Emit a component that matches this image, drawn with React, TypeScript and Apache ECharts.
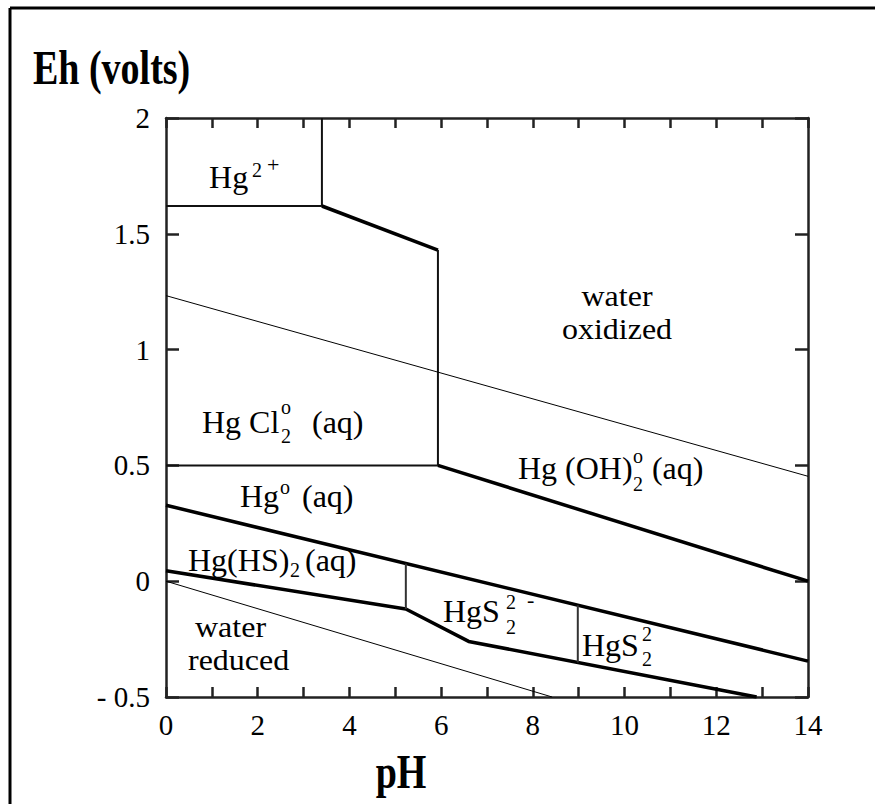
import React, { useEffect, useRef } from "react";
import * as echarts from "echarts";

const FONT = '"Liberation Serif", "Times New Roman", Times, serif';

// Axis ranges and tick labels
const phRange = [0, 14];
const ehRange = [-0.5, 2];
const ehTicks = [-0.5, 0, 0.5, 1, 1.5, 2];
const ehTickLabels = ["- 0.5", "0", "0.5", "1", "1.5", "2"];

// Stability-field boundaries [pH, Eh]
const hg2HgCl2Boundary = [[0, 1.62], [3.4, 1.62]];
const hg2HgOhBoundary = [[3.4, 1.62], [3.4, 2.0]];
const hgCl2HgOhUpper = [[3.4, 1.62], [5.93, 1.43]];
const hgCl2HgOhVertical = [[5.93, 1.43], [5.93, 0.5]];
const hgCl2Hg0Boundary = [[0, 0.5], [5.93, 0.5]];
const hgOhHg0Boundary = [[5.93, 0.5], [14, 0.0]];
const waterOxidizedLine = [[0, 1.233], [14, 0.453]];
const hg0SulfideBoundary = [[0, 0.328], [14, -0.345]];
const sulfideLowerBoundary = [[0, 0.045], [5.23, -0.12], [6.6, -0.26], [12.88, -0.5]];
const hsHgS2Vertical = [[5.23, -0.12], [5.23, 0.076]];
const hgS2Vertical = [[8.98, -0.351], [8.98, -0.104]];
const waterReducedLine = [[0, 0.0], [8.42, -0.5]];

// Region labels: anchor [pH, Eh] (baseline-left of main text) + pieces [text, dx, dy, size, align, scaleY]
const MAIN = 32;
const SUB = 20;
type Piece = [string, number, number, number, string?, number?];
const regionLabels: { ph: number; eh: number; pieces: Piece[] }[] = [
  { ph: 0.94, eh: 1.698, pieces: [["Hg", 0, 0, MAIN], ["2", 43, -11, SUB], ["+", 58, -16, 22]] },
  { ph: 9.835, eh: 1.177, pieces: [["water", 0, -1, MAIN, "center", 0.9], ["oxidized", 0, 32, MAIN, "center", 0.9]] },
  { ph: 0.785, eh: 0.642, pieces: [["Hg Cl", 0, 0, MAIN], ["2", 79, 10, SUB], ["o", 79, -19, SUB], ["(aq)", 110, 0, MAIN]] },
  { ph: 1.614, eh: 0.323, pieces: [["Hg", 0, 0, MAIN], ["o", 40, -13, SUB], ["(aq)", 62, 0, MAIN]] },
  { ph: 7.675, eh: 0.44, pieces: [["Hg (OH)", 0, 0, MAIN], ["o", 115, -16, SUB], ["2", 115, 12, SUB], ["(aq)", 134, 0, MAIN]] },
  { ph: 0.48, eh: 0.043, pieces: [["Hg(HS)", 0, 0, MAIN], ["2", 102, 6, SUB], ["(aq)", 117, 0, MAIN]] },
  { ph: 6.04, eh: -0.177, pieces: [["HgS", 0, 0, MAIN], ["2", 63, -13, SUB], ["-", 84, -15, 22], ["2", 63, 12, SUB]] },
  { ph: 9.07, eh: -0.323, pieces: [["HgS", 0, 0, MAIN], ["2", 60, -15, SUB], ["2", 60, 10, SUB]] },
  { ph: 0.632, eh: -0.263, pieces: [["water", 0, -3.5, MAIN, "left", 0.9], ["reduced", -7, 29.5, MAIN, "left", 0.9]] },
];

const BOX = "#222";

function lineSeries(data: number[][], width: number, color = "#000") {
  return {
    type: "line",
    data,
    symbol: "none",
    showSymbol: false,
    silent: true,
    clip: true,
    lineStyle: { color, width, cap: "butt" },
    z: 3,
  };
}

export default function App() {
  const ref = useRef<HTMLDivElement>(null);
  useEffect(() => {
    if (!ref.current) return;
    const chart = echarts.init(ref.current, null, { renderer: "svg" });
    const axisCommon = {
      type: "value",
      splitLine: { show: false },
      axisLine: { show: true, onZero: false, lineStyle: { color: BOX, width: 2.5 } },
    };
    chart.setOption({
      animation: false,
      backgroundColor: "#fff",
      grid: { left: 166, top: 118, width: 642, height: 579, containLabel: false },
      xAxis: [
        {
          ...axisCommon,
          position: "bottom",
          min: phRange[0],
          max: phRange[1],
          interval: 1,
          axisTick: { show: true, inside: true, length: 10, lineStyle: { color: BOX, width: 2.5 } },
          axisLabel: {
            show: true,
            margin: 13,
            fontSize: 29,
            fontFamily: FONT,
            color: "#000",
            formatter: (v: number) => (v % 2 === 0 ? String(v) : ""),
          },
        },
        {
          ...axisCommon,
          position: "top",
          min: phRange[0],
          max: phRange[1],
          interval: 1,
          axisTick: { show: true, inside: true, length: 10, lineStyle: { color: BOX, width: 2.5 } },
          axisLabel: { show: false },
        },
      ],
      yAxis: [
        {
          ...axisCommon,
          position: "left",
          min: ehRange[0],
          max: ehRange[1],
          interval: 0.5,
          axisTick: { show: true, inside: true, length: 13, lineStyle: { color: BOX, width: 2.5 } },
          axisLabel: {
            show: true,
            margin: 16,
            fontSize: 29,
            fontFamily: FONT,
            color: "#000",
            formatter: (v: number) => {
              const i = ehTicks.findIndex((t) => Math.abs(t - v) < 1e-6);
              return i >= 0 ? ehTickLabels[i] : "";
            },
          },
        },
        {
          ...axisCommon,
          position: "right",
          min: ehRange[0],
          max: ehRange[1],
          interval: 0.5,
          axisTick: { show: true, inside: true, length: 13, lineStyle: { color: BOX, width: 2.5 } },
          axisLabel: { show: false },
        },
      ],
      series: [
        lineSeries(hg2HgCl2Boundary, 2, "#111"),
        lineSeries(hg2HgOhBoundary, 2, "#111"),
        lineSeries(hgCl2HgOhUpper, 3.5),
        lineSeries(hgCl2HgOhVertical, 2, "#111"),
        lineSeries(hgCl2Hg0Boundary, 2, "#111"),
        lineSeries(hgOhHg0Boundary, 3.5),
        lineSeries(waterOxidizedLine, 1),
        lineSeries(hg0SulfideBoundary, 3.5),
        lineSeries(sulfideLowerBoundary, 3.5),
        lineSeries(hsHgS2Vertical, 2, "#333"),
        lineSeries(hgS2Vertical, 2, "#333"),
        lineSeries(waterReducedLine, 1),
      ],
    });

    const elements: any[] = [
      { type: "line", shape: { x1: 10, y1: 8, x2: 880, y2: 8 }, style: { stroke: "#000", lineWidth: 3 } },
      { type: "line", shape: { x1: 10, y1: 8, x2: 10, y2: 810 }, style: { stroke: "#000", lineWidth: 3 } },
      {
        type: "text",
        x: 33,
        y: 68,
        scaleY: 1.25,
        style: {
          text: "Eh (volts)",
          fontSize: 38,
          fontWeight: "bold",
          fontFamily: FONT,
          fill: "#000",
          align: "left",
          verticalAlign: "middle",
        },
      },
      {
        type: "text",
        x: 401,
        y: 772,
        scaleY: 1.25,
        style: {
          text: "pH",
          fontSize: 38,
          fontWeight: "bold",
          fontFamily: FONT,
          fill: "#000",
          align: "center",
          verticalAlign: "middle",
        },
      },
    ];
    for (const lab of regionLabels) {
      const p = chart.convertToPixel({ gridIndex: 0 } as any, [lab.ph, lab.eh]) as number[];
      for (const [text, dx, dy, size, align, sy] of lab.pieces) {
        elements.push({
          type: "text",
          x: p[0] + dx,
          y: p[1] + dy - 0.34 * size,
          scaleY: sy || 1,
          z: 10,
          style: {
            text,
            fontSize: size,
            fontFamily: FONT,
            fill: "#000",
            align: align || "left",
            verticalAlign: "middle",
          },
        });
      }
    }
    chart.setOption({ graphic: { elements } });
    return () => chart.dispose();
  }, []);
  return (
    <div
      ref={ref}
      style={{ position: "absolute", left: 0, top: 0, width: 875, height: 804, background: "#fff" }}
    />
  );
}
